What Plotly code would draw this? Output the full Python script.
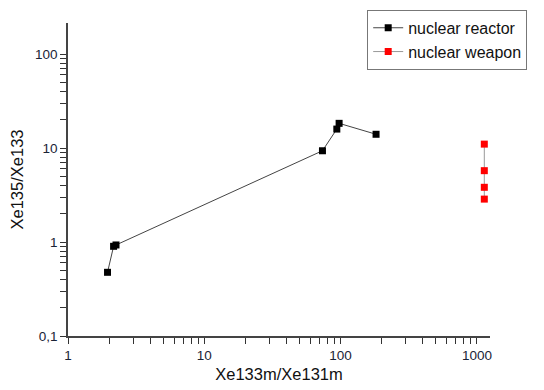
import plotly.graph_objects as go

reactor_x = [1.95, 2.16, 2.25, 73.6, 93.8, 97.5, 182]
reactor_y = [0.476, 0.90, 0.93, 9.35, 15.9, 18.3, 14.0]
weapon_x = [1133, 1133, 1133, 1133]
weapon_y = [11.0, 5.74, 3.82, 2.86]

x_major = [1, 10, 100, 1000]
x_major_labels = ["1", "10", "100", "1000"]
y_major = [0.1, 1, 10, 100]
y_major_labels = ["0,1", "1", "10", "100"]

x_range_log = [0, 3.096]
y_range_log = [-1, 2.33]


def minor_vals(lo, hi):
    out = []
    d = lo
    while d < hi:
        out.extend(k * d for k in range(2, 10))
        d *= 10
    return out


def all_ticks(major, labels, lo, hi):
    vals = list(major) + minor_vals(lo, hi)
    text = list(labels) + [""] * (len(vals) - len(major))
    return vals, text


xv, xt = all_ticks(x_major, x_major_labels, 1, 1000)
yv, yt = all_ticks(y_major, y_major_labels, 0.1, 100)

fig = go.Figure()
fig.add_trace(go.Scatter(
    x=reactor_x, y=reactor_y, mode="lines+markers", name="nuclear reactor",
    line=dict(color="#444444", width=1),
    marker=dict(symbol="square", size=7, color="black"),
))
fig.add_trace(go.Scatter(
    x=weapon_x, y=weapon_y, mode="lines+markers", name="nuclear weapon",
    line=dict(color="#999999", width=1),
    marker=dict(symbol="square", size=7, color="red"),
))

axis_common = dict(
    type="log", showline=True, linecolor="#444444", linewidth=1.5,
    ticks="outside", ticklen=6, tickwidth=1.2, tickcolor="#333333",
    showgrid=False, zeroline=False, mirror=False, tickmode="array",
    tickfont=dict(family="Liberation Sans, Arial", size=13.5, color="#1a2336"),
)

fig.update_layout(
    xaxis=dict(**axis_common, range=x_range_log, tickvals=xv, ticktext=xt,
               title=dict(text="Xe133m/Xe131m",
                          font=dict(family="Liberation Sans, Arial", size=16.5, color="#111111"),
                          standoff=6)),
    yaxis=dict(**axis_common, range=y_range_log, tickvals=yv, ticktext=yt,
               title=dict(text="Xe135/Xe133",
                          font=dict(family="Liberation Sans, Arial", size=16.5, color="#111111"),
                          standoff=8)),
)

fig.update_layout(
    width=544, height=390,
    margin=dict(l=60, r=62, t=15, b=62, autoexpand=False),
    plot_bgcolor="white", paper_bgcolor="white",
    font=dict(family="Liberation Sans, Arial", size=14, color="#111111"),
    legend=dict(x=0.709, y=1.042, xanchor="left", yanchor="top",
                bordercolor="#777777", borderwidth=1, bgcolor="white",
                font=dict(size=16), tracegroupgap=0),
    showlegend=True,
)

fig.write_html("out.html")
